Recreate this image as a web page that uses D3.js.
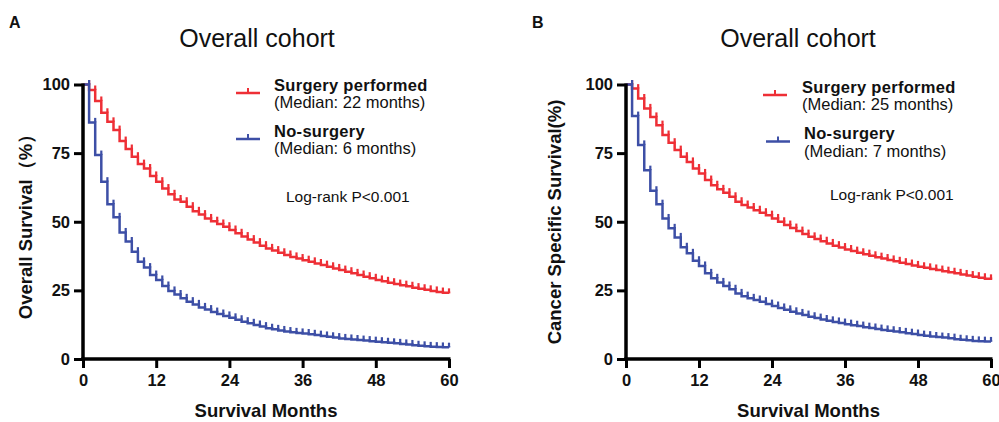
<!DOCTYPE html>
<html>
<head>
<meta charset="utf-8">
<script src="https://cdn.jsdelivr.net/npm/d3@7"></script>
<style>
  body { margin: 0; background: #fff; }
  svg text { font-family: "Liberation Sans", Arial, sans-serif; fill: #111; }
</style>
</head>
<body>
<div id="chart"></div>
<script>
var width = 999,
    height = 422;

// survival (%) at month 0..60
var months = d3.range(0, 61);
var xTicks = [0, 12, 24, 36, 48, 60];
var yTicks = [0, 25, 50, 75, 100];

var osSurgery = [100, 98, 94, 89.7, 86.4, 83.4, 79.4, 76.5, 73.7, 71, 69.4, 66.7, 64.6, 62.1, 60, 58.1,
  57.3, 55.5, 53.8, 52.6, 51.2, 50.2, 49.2, 48.2, 47, 45.8, 44.6, 43.5, 42.4, 41.3, 40.3, 39.5, 38.7,
  37.9, 37.2, 36.6, 36, 35.4, 34.8, 34.2, 33.6, 33, 32.4, 31.8, 31.2, 30.6, 30, 29.4, 28.8, 28.3, 27.8,
  27.3, 26.9, 26.5, 26, 25.6, 25.2, 24.8, 24.4, 24.1, 23.9];
var osNoSurgery = [100, 86.2, 74.3, 64.6, 56.4, 51.6, 46.1, 42.8, 39.1, 35.4, 33.3, 30.6, 28.8, 26.6, 24.8,
  23.5, 22.1, 20.9, 19.9, 18.8, 18, 17.1, 16.4, 15.7, 15, 14.3, 13.6, 13, 12.4, 11.8, 11.2, 10.8, 10.4,
  10, 9.7, 9.5, 9.3, 9, 8.7, 8.4, 8.1, 7.8, 7.5, 7.3, 7.1, 6.9, 6.7, 6.5, 6.3, 6.1, 5.9, 5.7, 5.5, 5.3,
  5, 4.8, 4.6, 4.5, 4.4, 4.3, 4.2];
var cssSurgery = [100, 98.5, 94.9, 91.3, 88.2, 85.2, 81.6, 78.8, 76.1, 73.7, 71.8, 69.4, 67.6, 65.2, 63.3,
  61.8, 60.6, 59.1, 57.3, 56.1, 55.2, 54.2, 53.3, 52.4, 51.2, 50, 48.8, 47.7, 46.6, 45.5, 44.5, 43.7,
  42.9, 42.1, 41.3, 40.6, 39.9, 39.3, 38.7, 38.2, 37.6, 37.1, 36.6, 36.1, 35.6, 35.1, 34.6, 34.1, 33.6,
  33.2, 32.8, 32.4, 32, 31.6, 31.2, 30.8, 30.4, 30, 29.6, 29.2, 28.8];
var cssNoSurgery = [100, 88.5, 78, 68.8, 61.3, 56.4, 51.2, 47.6, 44.3, 40.7, 38.5, 35.8, 33.9, 31.2, 29.4,
  27.9, 26.6, 25.4, 23.9, 22.9, 22.1, 21.5, 20.9, 20, 19.3, 18.6, 17.9, 17.2, 16.6, 16, 15.4, 14.9, 14.4,
  13.9, 13.5, 13.1, 12.7, 12.3, 12, 11.6, 11.3, 10.9, 10.6, 10.3, 10, 9.7, 9.4, 9.1, 8.7, 8.5, 8.2, 8,
  7.8, 7.6, 7.2, 7, 6.8, 6.6, 6.5, 6.4, 6.3];

var red = "#ee2f36",
    blue = "#3d4fa6";

var svg = d3.select("#chart").append("svg")
    .attr("width", width)
    .attr("height", height);

var panels = [
  { letter: "A", lx: 9, left: 83, right: 449, titleX: 257, ylabel: "Overall Survival（%）", ylabelX: 32,
    surgery: osSurgery, noSurgery: osNoSurgery, med1: "(Median: 22 months)", med2: "(Median: 6 months)",
    leg1: [236, 274, 93], leg2: [236, 274, 139], logrank: [286, 202] },
  { letter: "B", lx: 532, left: 626, right: 991, titleX: 798, ylabel: "Cancer Specific Survival(%)", ylabelX: 561,
    surgery: cssSurgery, noSurgery: cssNoSurgery, med1: "(Median: 25 months)", med2: "(Median: 7 months)",
    leg1: [763, 802, 95], leg2: [766, 804, 141.5], logrank: [830, 200] }
];

panels.forEach(drawPanel);

function drawPanel(p) {
  var top = 84.5, bottom = 359;
  var x = d3.scaleLinear().domain([0, 60]).range([p.left, p.right]);
  var y = d3.scaleLinear().domain([0, 100]).range([bottom, top]);
  var g = svg.append("g");

  g.append("text").attr("x", p.lx).attr("y", 28)
    .style("font-weight", "bold").style("font-size", "16px").text(p.letter);

  g.append("text").attr("x", p.titleX).attr("y", 47)
    .attr("text-anchor", "middle").style("font-size", "25px").text("Overall cohort");

  // curves
  var line = d3.line()
      .x(function(d, i) { return x(months[i]); })
      .y(function(d) { return y(d); })
      .curve(d3.curveStepAfter);

  [[p.surgery, red], [p.noSurgery, blue]].forEach(function(s) {
    g.append("path")
      .datum(s[0])
      .attr("fill", "none")
      .attr("stroke", s[1])
      .attr("stroke-width", 2.5)
      .attr("d", line);
    // censor ticks
    g.selectAll(null)
      .data(s[0].slice(1))
      .enter().append("line")
      .attr("x1", function(d, i) { return x(months[i + 1]); })
      .attr("x2", function(d, i) { return x(months[i + 1]); })
      .attr("y1", function(d, i) { return y(s[0][i]); })
      .attr("y2", function(d, i) { return y(s[0][i]) - 4.5; })
      .attr("stroke", s[1])
      .attr("stroke-width", 2.2);
  });

  // axes
  var xAxis = d3.axisBottom(x).tickValues(xTicks).tickSize(9).tickPadding(6);
  var yAxis = d3.axisLeft(y).tickValues(yTicks).tickSize(9).tickPadding(4);

  var gx = g.append("g").attr("transform", "translate(0," + bottom + ")").call(xAxis);
  var gy = g.append("g").attr("transform", "translate(" + p.left + ",0)").call(yAxis);
  [gx, gy].forEach(function(a) {
    a.select(".domain").attr("stroke", "#000").attr("stroke-width", 3.5);
    a.selectAll(".tick line").attr("stroke", "#000").attr("stroke-width", 3);
    a.selectAll(".tick text")
      .style("font-family", "'Liberation Sans', Arial, sans-serif")
      .style("font-size", "16.5px").style("font-weight", "bold").attr("fill", "#111");
  });
  gx.select(".domain").attr("d", "M" + (p.left - 1.7) + ",0H" + (p.right + 1.5));
  gy.select(".domain").attr("d", "M0," + (top - 1) + "V" + (bottom + 1.7));
  gx.selectAll(".tick text").attr("dy", "0.71em");

  g.append("text").attr("x", (p.left + p.right) / 2).attr("y", 417)
    .attr("text-anchor", "middle").style("font-weight", "bold").style("font-size", "18.5px")
    .text("Survival Months");

  g.append("text")
    .attr("transform", "translate(" + p.ylabelX + ",222) rotate(-90)")
    .attr("text-anchor", "middle").style("font-weight", "bold").style("font-size", "18.5px")
    .text(p.ylabel);

  // legend
  [[p.leg1, red, "Surgery performed", p.med1], [p.leg2, blue, "No-surgery", p.med2]].forEach(function(l) {
    var lx = l[0][0], tx = l[0][1], ly = l[0][2];
    g.append("line").attr("x1", lx).attr("x2", lx + 24).attr("y1", ly).attr("y2", ly)
      .attr("stroke", l[1]).attr("stroke-width", 2.5);
    g.append("line").attr("x1", lx + 12).attr("x2", lx + 12).attr("y1", ly).attr("y2", ly - 5)
      .attr("stroke", l[1]).attr("stroke-width", 2);
    g.append("text").attr("x", tx).attr("y", ly - 2.5)
      .style("font-weight", "bold").style("font-size", "16.5px").style("letter-spacing", "0.3px")
      .text(l[2]);
    g.append("text").attr("x", tx).attr("y", ly + 15)
      .style("font-size", "16.5px").text(l[3]);
  });

  g.append("text").attr("x", p.logrank[0]).attr("y", p.logrank[1])
    .style("font-size", "15.5px").text("Log-rank P<0.001");
}
</script>
</body>
</html>
